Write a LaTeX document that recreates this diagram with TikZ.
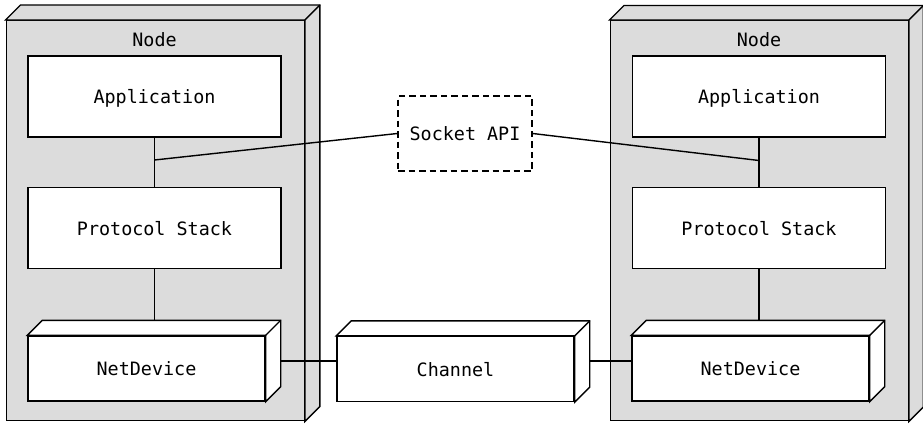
\documentclass[tikz,border=0pt]{standalone}
\usepackage{fontspec}
\setmonofont{DejaVu Sans Mono}
\definecolor{nodegray}{RGB}{220,220,220}
\newcommand\mydepth[3]{% name, fill, depth
  \draw[fill=#2, line join=miter] (#1.north west) -- ([shift={(#3,-#3)}]#1.north west)
    -- ([shift={(#3,-#3)}]#1.north east) -- ([shift={(#3,-#3)}]#1.south east)
    -- (#1.south east) -- (#1.north east) -- cycle;
  \draw (#1.north east) -- ([shift={(#3,-#3)}]#1.north east);
}
\begin{document}
\begin{tikzpicture}[x=1pt,y=-1pt,
  font=\ttfamily\fontsize{18.4}{22}\selectfont, line width=1.4pt,
  nodebox/.style={draw, fill=nodegray, anchor=north west, inner sep=0pt,
    minimum width=298pt, minimum height=400pt},
  flatbox/.style={draw, fill=white, inner sep=0pt, text depth=0pt,
    minimum width=253pt, minimum height=81pt},
  devbox/.style={draw, fill=white, inner sep=0pt, text depth=0pt,
    minimum width=237pt, minimum height=65pt},
  lbl/.style={inner sep=0pt}]
\useasboundingbox (0,0) rectangle (923,423);

% left node
\node[nodebox] (n1) at (5.5,20) {};
\mydepth{n1}{nodegray}{15}
\node[lbl] (n1l) at (154.5,40) {Node};
\node[flatbox] (app1) at (154.5,96.5) {Application};
\node[flatbox] (ps1) at (154.5,228) {Protocol Stack};
\node[devbox] (nd1) at (146.5,368.5) {NetDevice};
\mydepth{nd1}{white}{15}

% right node
\node[nodebox] (n2) at (609.5,20) {};
\mydepth{n2}{nodegray}{14.5}
\node[lbl] (n2l) at (759,40) {Node};
\node[flatbox] (app2) at (759,96.5) {Application};
\node[flatbox] (ps2) at (759,228) {Protocol Stack};
\node[devbox] (nd2) at (750.5,368.5) {NetDevice};
\mydepth{nd2}{white}{15}

% channel
\node[devbox] (ch) at (455.5,369) {Channel};
\mydepth{ch}{white}{15}

% socket api
\node[draw, dash pattern=on 6.5pt off 4pt, fill=white, inner sep=0pt,
  minimum width=134pt, minimum height=75pt] (sock) at (465,133.5) {Socket API};

% connectors
\coordinate (j1) at (154.5,160);
\coordinate (j2) at (759,160.5);
\coordinate (t1) at (154.5,321);
\coordinate (t2) at (759,321);
\draw (app1.south) -- (ps1.north);
\draw (ps1.south) -- (t1);
\draw (app2.south) -- (ps2.north);
\draw (ps2.south) -- (t2);
\draw (j1) -- (sock.west);
\draw (sock.east) -- (j2);
\coordinate (s1) at (280,361);
\coordinate (s2) at (589,361);
\draw (s1) -- (ch.west |- s1);
\draw (s2) -- (nd2.west |- s2);
\end{tikzpicture}
\end{document}
